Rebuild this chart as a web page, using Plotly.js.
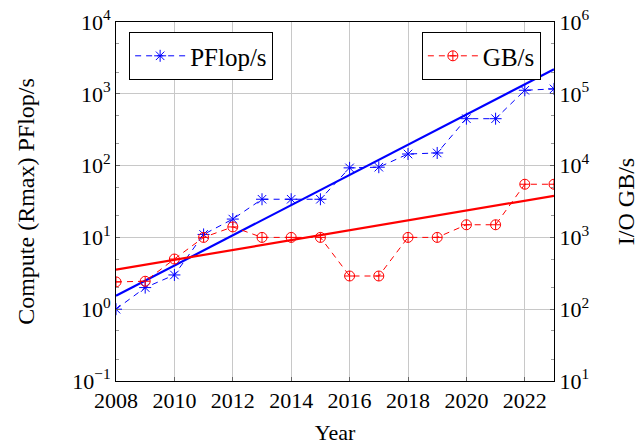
<!DOCTYPE html>
<html>
<head>
<meta charset="utf-8">
<script src="https://cdn.plot.ly/plotly-3.0.1.min.js"></script>
<style>html,body{margin:0;padding:0;background:#fff}#chart{width:644px;height:445px}</style>
</head>
<body>
<div id="chart"></div>
<script>
// Data
const years = [2008,2009,2010,2011,2012,2013,2014,2015,2016,2017,2018,2019,2020,2021,2022,2023];
const pflops = [1.0,2.0,3.0,11,18,34,34,34,93,95,145,150,450,450,1120,1170];
const gbs = [240,245,500,1000,1400,1000,1000,1000,290,290,1000,1000,1500,1500,5500,5500];
const trendYears = [2008, 2023];
const pflopsTrend = [1.54, 2200];
const gbsTrend = [355, 3800];
const leftTickVals = [0.1,1,10,100,1000,10000];
const leftTickText = ['10<sup>−1</sup>','10<sup>0</sup>','10<sup>1</sup>','10<sup>2</sup>','10<sup>3</sup>','10<sup>4</sup>'];
const rightTickVals = [10,100,1000,10000,100000,1000000];
const rightTickText = ['10<sup>1</sup>','10<sup>2</sup>','10<sup>3</sup>','10<sup>4</sup>','10<sup>5</sup>','10<sup>6</sup>'];
const xTickVals = [2008,2010,2012,2014,2016,2018,2020,2022];

const FONT = 'Liberation Serif, DejaVu Serif, serif';
const BLUE = '#0000ff', RED = '#ff0000';

const traces = [
  {x: trendYears, y: pflopsTrend, mode: 'lines', line: {color: BLUE, width: 2.2}, showlegend: false, yaxis: 'y', hoverinfo: 'skip'},
  {x: trendYears, y: gbsTrend, mode: 'lines', line: {color: RED, width: 2.2}, showlegend: false, yaxis: 'y2', hoverinfo: 'skip'},
  {x: years, y: pflops, name: 'PFlop/s', mode: 'lines+markers', yaxis: 'y', legend: 'legend',
   line: {color: BLUE, width: 1, dash: '6px,5px'},
   marker: {symbol: 'asterisk-open', size: 10, color: BLUE, line: {color: BLUE, width: 1}}},
  {x: years, y: gbs, name: 'GB/s', mode: 'lines+markers', yaxis: 'y2', legend: 'legend2',
   line: {color: RED, width: 1, dash: '6px,5px'},
   marker: {symbol: 'circle-cross-open', size: 10, color: RED, line: {color: RED, width: 1}}}
];

const layout = {
  width: 644, height: 445,
  margin: {l: 116, r: 90, t: 22, b: 64},
  paper_bgcolor: '#fff', plot_bgcolor: '#fff',
  font: {family: FONT, color: '#000', size: 22},
  xaxis: {
    range: [2008, 2023], tickvals: xTickVals, ticks: 'inside', ticklen: 4, tickcolor: '#666',
    showgrid: true, gridcolor: '#c8c8c8', gridwidth: 1, zeroline: false,
    showline: true, linecolor: '#000', linewidth: 1, mirror: true,
    tickfont: {family: FONT, size: 22},
    title: {text: 'Year', font: {family: FONT, size: 22}, standoff: 12}
  },
  yaxis: {
    type: 'log', range: [-1, 4], tickvals: leftTickVals, ticktext: leftTickText,
    ticks: 'inside', ticklen: 4, tickcolor: '#666',
    minor: {ticks: 'inside', ticklen: 3, tickcolor: '#999', showgrid: false},
    showgrid: true, gridcolor: '#c8c8c8', gridwidth: 1, zeroline: false,
    showline: true, linecolor: '#000', linewidth: 1, mirror: true,
    tickfont: {family: FONT, size: 22},
    title: {text: 'Compute (Rmax) PFlop/s', font: {family: FONT, size: 24}, standoff: 30}
  },
  yaxis2: {
    type: 'log', range: [1, 6], overlaying: 'y', side: 'right',
    tickvals: rightTickVals, ticktext: rightTickText,
    ticks: 'inside', ticklen: 4, tickcolor: '#666',
    minor: {ticks: 'inside', ticklen: 3, tickcolor: '#999', showgrid: false},
    showgrid: false, zeroline: false, showline: true, linecolor: '#000', linewidth: 1,
    tickfont: {family: FONT, size: 22},
    title: {text: 'I/O GB/s', font: {family: FONT, size: 24}, standoff: 28}
  },
  legend: {x: 0.03, y: 0.972, xanchor: 'left', yanchor: 'top', bgcolor: '#fff',
    bordercolor: '#000', borderwidth: 1, itemwidth: 50, font: {family: FONT, size: 25}},
  legend2: {x: 0.97, y: 0.972, xanchor: 'right', yanchor: 'top', bgcolor: '#fff',
    bordercolor: '#000', borderwidth: 1, itemwidth: 50, font: {family: FONT, size: 25}}
};

Plotly.newPlot('chart', traces, layout, {displayModeBar: false, staticPlot: true});
</script>
</body>
</html>
